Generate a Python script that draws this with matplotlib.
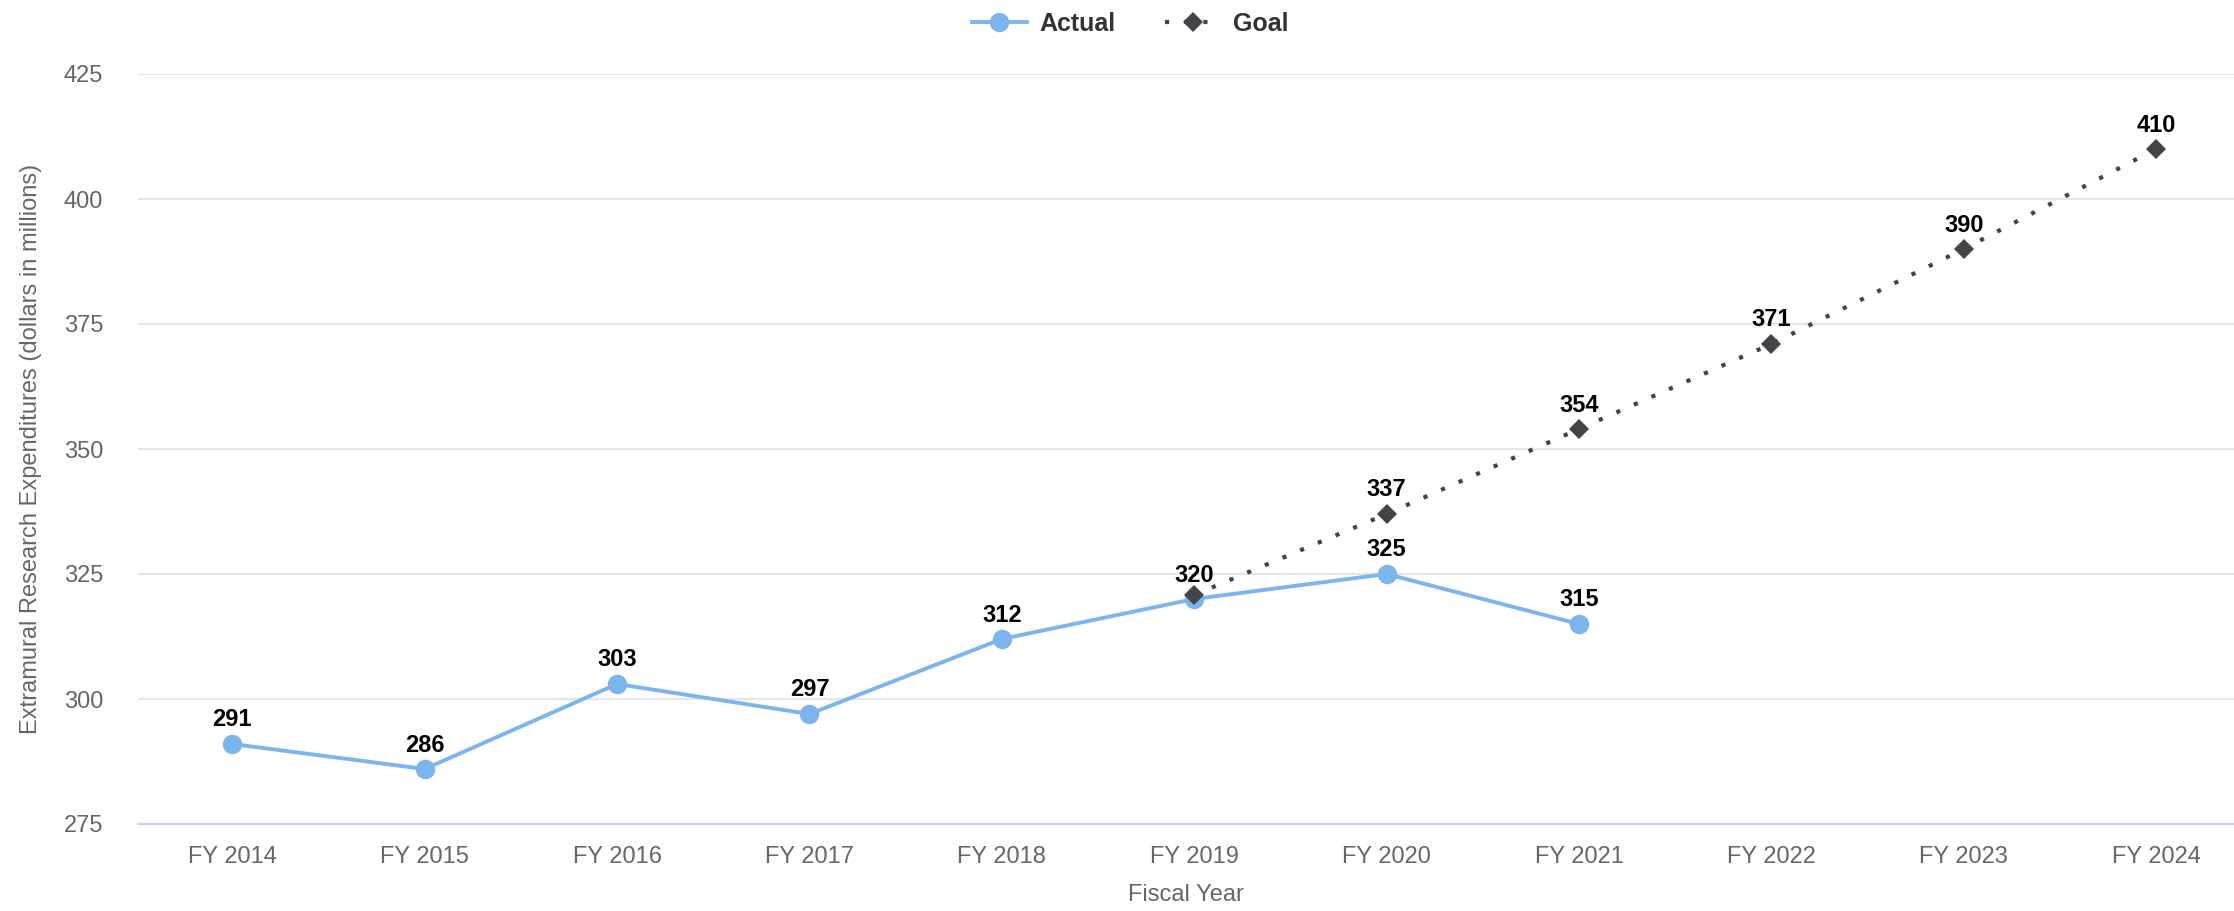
import matplotlib
matplotlib.use("Agg")
import matplotlib.pyplot as plt
from matplotlib.lines import Line2D

plt.rcParams['font.family'] = ['Liberation Sans', 'DejaVu Sans']

years = ["FY 2014", "FY 2015", "FY 2016", "FY 2017", "FY 2018", "FY 2019",
         "FY 2020", "FY 2021", "FY 2022", "FY 2023", "FY 2024"]
actual = [291, 286, 303, 297, 312, 320, 325, 315]
goal_years = ["FY 2019", "FY 2020", "FY 2021", "FY 2022", "FY 2023", "FY 2024"]
goal = [320.8, 337, 354, 371, 390, 410]
goal_labels = [None, 337, 354, 371, 390, 410]
y_ticks = [275, 300, 325, 350, 375, 400, 425]

blue = "#7cb5ec"
dark = "#434348"

fig = plt.figure(figsize=(22.34, 9.11), dpi=100)
ax = fig.add_axes([138 / 2234, 1 - 824 / 911, 1 - 138 / 2234, (824 - 74) / 911])

x_act = [years.index(y) for y in years[:len(actual)]]
x_goal = [years.index(y) for y in goal_years]

ax.plot(x_act, actual, color=blue, lw=2.8, marker='o', markersize=14,
        markeredgewidth=0, zorder=3, label="Actual")
ax.plot(x_goal, goal, color=dark, lw=3.0, linestyle=(0, (1, 3.6)),
        marker='D', markersize=10, markeredgewidth=0, zorder=4, label="Goal")

for x, v in zip(x_act, actual):
    ax.annotate(str(v), (x, v), xytext=(0, 9), textcoords='offset points',
                ha='center', va='bottom', fontsize=17, fontweight='bold',
                color='black', zorder=5)
for x, v, lab in zip(x_goal, goal, goal_labels):
    if lab is None:
        continue
    ax.annotate(str(lab), (x, v), xytext=(0, 9), textcoords='offset points',
                ha='center', va='bottom', fontsize=17, fontweight='bold',
                color='black', zorder=5)

ax.set_xlim(-0.49, 10.405)
ax.set_ylim(275, 425)
ax.set_yticks(y_ticks)
ax.set_xticks(range(len(years)))
ax.set_xticklabels(years)
ax.tick_params(axis='both', length=0, labelsize=17, labelcolor='#666666')
ax.tick_params(axis='x', pad=16)
ax.tick_params(axis='y', pad=25)

ax.grid(axis='y', color='#e6e6e6', lw=1.6)
ax.set_axisbelow(True)
for s in ['top', 'right', 'left']:
    ax.spines[s].set_visible(False)
ax.spines['bottom'].set_color('#ccd6eb')
ax.spines['bottom'].set_linewidth(1.6)

fig.text(31 / 2234, 1 - 449 / 911, "Extramural Research Expenditures (dollars in millions)",
         rotation=90, ha='center', va='center', fontsize=17, color='#666666')
fig.text(1186 / 2234, 1 - 895 / 911, "Fiscal Year", ha='center', va='center',
         fontsize=17, color='#666666')

handles = [
    Line2D([], [], color=blue, lw=2.8, marker='o', markersize=14, markeredgewidth=0),
    Line2D([], [], color=dark, lw=3.0, linestyle=(0, (1, 3.6)), marker='D',
           markersize=10, markeredgewidth=0),
]
leg = fig.legend(handles, ["Actual", "Goal"], loc='center', ncol=2,
                 bbox_to_anchor=(1130 / 2234, 1 - 24 / 911), frameon=False,
                 handlelength=2.2, columnspacing=2.0, handletextpad=0.5,
                 prop={'size': 18, 'weight': 'bold'})
for t in leg.get_texts():
    t.set_color('#333333')

fig.savefig("out.png", dpi=100, facecolor='white')
